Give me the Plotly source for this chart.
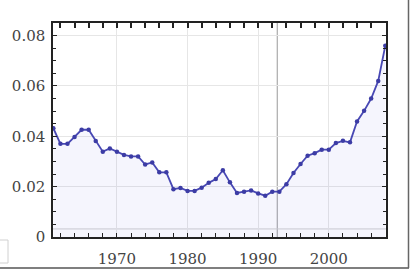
import plotly.graph_objects as go

years = list(range(1961, 2009))
values = [0.0432, 0.0370, 0.0370, 0.0397, 0.0426, 0.0426, 0.0381, 0.0339, 0.0352, 0.0339,
          0.0326, 0.0320, 0.0320, 0.0288, 0.0296, 0.0257, 0.0257, 0.0190, 0.0195, 0.0183,
          0.0183, 0.0196, 0.0215, 0.0230, 0.0265, 0.0217, 0.0175, 0.0180, 0.0185, 0.0173,
          0.0164, 0.0180, 0.0180, 0.0210, 0.0254, 0.0290, 0.0323, 0.0333, 0.0347, 0.0347,
          0.0373, 0.0382, 0.0376, 0.0459, 0.0501, 0.0550, 0.0620, 0.0760]

x_tickvals = [1970, 1980, 1990, 2000]
x_ticktext = ["1970", "1980", "1990", "2000"]
y_tickvals = [0, 0.02, 0.04, 0.06, 0.08]
y_ticktext = ["0", "0.02", "0.04", "0.06", "0.08"]

W, H = 412, 271
L, R, T, B = 53, 26, 23, 34
XR = [1960.95, 2008.1]
YR = [0, 0.085]

line_col = "rgb(72,72,180)"
font = dict(family="DejaVu Serif", size=15, color="#444")

fig = go.Figure()
fig.add_trace(go.Scatter(
    x=years, y=values, mode="lines+markers",
    line=dict(color=line_col, width=1.8),
    marker=dict(color="rgb(60,60,165)", size=4.5),
    fill="tozeroy", fillcolor="rgba(80,80,220,0.06)",
    hoverinfo="skip", showlegend=False,
))
fig.add_trace(go.Scatter(x=years, y=values, xaxis="x2", mode="markers",
                         marker=dict(opacity=0), hoverinfo="skip", showlegend=False))

fig.update_layout(
    xaxis=dict(
        range=XR, tickvals=x_tickvals, ticktext=x_ticktext, automargin=False,
        ticks="inside", ticklen=4, tickwidth=1, tickcolor="#222",
        showline=True, linecolor="#222", linewidth=1.5, mirror=True,
        showgrid=True, gridcolor="#e6e6e6", gridwidth=1, zeroline=False,
        minor=dict(dtick=2, tick0=1960, ticks="inside", ticklen=4, tickcolor="#222", showgrid=False),
        tickfont=font, ticklabelstandoff=7,
    ),
    xaxis2=dict(
        range=XR, overlaying="x", side="top", anchor="y", automargin=False,
        tick0=1962, dtick=2, tickmode="linear", ticks="inside", ticklen=5, tickwidth=1.5,
        tickcolor="#222",
        showticklabels=True, tickfont=dict(size=1, color="rgba(0,0,0,0)"),
        showgrid=False, zeroline=False, showline=False,
    ),
    yaxis=dict(
        range=YR, tickvals=y_tickvals, ticktext=y_ticktext, automargin=False,
        ticks="inside", ticklen=4, tickwidth=1, tickcolor="#222",
        showline=True, linecolor="#222", linewidth=1.5, mirror="ticks",
        showgrid=True, gridcolor="#e6e6e6", gridwidth=1, zeroline=False,
        minor=dict(dtick=0.005, tick0=0, ticks="inside", ticklen=3, tickcolor="#222", showgrid=False),
        tickfont=font, ticklabelstandoff=3,
    ),
)

pw = W - L - R
ph = H - T - B
def px2paper_x(px):
    return (px - L) / pw
def px2paper_y(py):
    return (H - B - py) / ph

shapes = [
    dict(type="line", xref="x", yref="paper", x0=1992.7, x1=1992.7, y0=0, y1=1,
         line=dict(color="#9a9a9a", width=1), layer="below"),
    dict(type="line", xref="paper", yref="y", x0=0, x1=1, y0=0.0032, y1=0.0032,
         line=dict(color="#cfcfcf", width=1), layer="below"),
    dict(type="line", xref="paper", yref="paper",
         x0=px2paper_x(0), x1=px2paper_x(409), y0=px2paper_y(268), y1=px2paper_y(268),
         line=dict(color="#555", width=1.5)),
    dict(type="line", xref="paper", yref="paper",
         x0=px2paper_x(408.5), x1=px2paper_x(408.5), y0=px2paper_y(0), y1=px2paper_y(268),
         line=dict(color="#666", width=1.5)),
    dict(type="rect", xref="paper", yref="paper",
         x0=px2paper_x(-2), x1=px2paper_x(8), y0=px2paper_y(240), y1=px2paper_y(263),
         line=dict(color="#d0d0d0", width=1), fillcolor="white"),
]

fig.update_layout(
    width=W, height=H, margin=dict(l=L, r=R, t=T, b=B),
    paper_bgcolor="white", plot_bgcolor="white",
    shapes=shapes,
)
fig.write_html("out.html")
